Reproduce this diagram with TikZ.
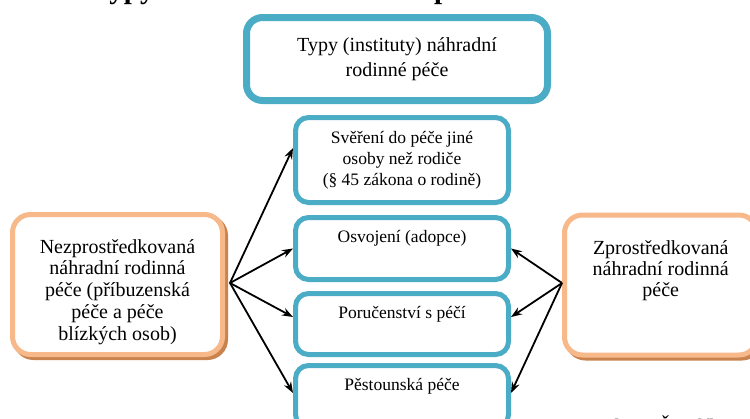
\documentclass[tikz,border=0pt]{standalone}
\usepackage{fontspec}
\setmainfont{Liberation Serif}
\usetikzlibrary{arrows.meta,backgrounds}
\definecolor{tealc}{HTML}{4BACC6}
\definecolor{orangec}{HTML}{F7B88A}
\definecolor{shadowc}{HTML}{C9834F}
\newcommand\boxtxt[4]{\begin{minipage}[t][#1][t]{#2}\centering\rule{0pt}{#3}#4\end{minipage}}
\begin{document}
\begin{tikzpicture}[x=1pt,y=-1pt,
  tealtop/.style={draw=tealc, line width=7pt, rounded corners=16pt, fill=white, inner sep=0pt,
    minimum width=301pt, minimum height=83pt, align=center, font=\fontsize{20}{25}\selectfont},
  tealbox/.style={draw=tealc, line width=5pt, rounded corners=13pt, fill=white, inner sep=0pt,
    font=\fontsize{17.5}{21}\selectfont},
  orangebox/.style={draw=orangec, line width=5pt, rounded corners=18pt, fill=white, inner sep=0pt},
  shadowline/.style={draw=shadowc, line width=5pt, rounded corners=18pt},
  link/.style={line width=1.8pt, -{Stealth[length=11pt,width=8pt]}}]
\useasboundingbox (0,0) rectangle (750,418);
\clip (0,0) rectangle (750,418);

% title fragment (cut by the top edge)
\node[anchor=base west, inner sep=0pt, font=\fontsize{29}{30}\selectfont\bfseries] (title) at (92,-2)
  {Typy\hspace{23pt}náhradní\hspace{23pt}rodinné\hspace{23pt}péče};

% top box
\node[tealtop] (T) at (397,59) {Typy (instituty) náhradní\\rodinné péče};

% middle boxes
\node[tealbox] (M1) at (402,160) {\boxtxt{85pt}{213pt}{25.5pt}{Svěření do péče jiné\\osoby než rodiče\\(§ 45 zákona o rodině)}};
\node[tealbox] (M2) at (402,248.5) {\boxtxt{62pt}{213pt}{24.5pt}{Osvojení (adopce)}};
\node[tealbox] (M3) at (402,324) {\boxtxt{61pt}{213pt}{24.5pt}{Poručenství s péčí}};
\node[tealbox] (M4) at (402,396.5) {\boxtxt{62pt}{213pt}{24.5pt}{Pěstounská péče}};

% orange boxes
\node[orangebox, font=\fontsize{20}{21.75}\selectfont] (L) at (117.5,284.5)
  {\boxtxt{140pt}{210pt}{38.5pt}{Nezprostředkovaná\\náhradní rodinná\\péče (příbuzenská\\péče a péče\\blízkých osob)}};
\node[orangebox, font=\fontsize{20}{21}\selectfont] (R) at (660.75,285)
  {\boxtxt{140pt}{192.5pt}{39pt}{Zprostředkovaná\\náhradní rodinná\\péče}};

\begin{scope}[on background layer]
  \draw[shadowline] ([shift={(5.5,5.5)}]L.north west) rectangle ([shift={(0.5,0.5)}]L.south east);
  \draw[shadowline] ([shift={(5.5,5.5)}]R.north west) rectangle ([shift={(0.5,0.5)}]R.south east);
\end{scope}

% connectors
\coordinate (ls) at ([xshift=5pt,yshift=1.5pt]L.east);
\coordinate (rs) at ([yshift=2pt]R.west);
\draw[link] (ls) -- ([yshift=12pt]M1.west);
\draw[link] (ls) -- (M2.west);
\draw[link] (ls) -- ([yshift=7pt]M3.west);
\draw[link] (ls) -- ([yshift=3.5pt]M4.west);
\draw[link] (rs) -- (M2.east);
\draw[link] (rs) -- ([yshift=7pt]M3.east);
\draw[link] (rs) -- ([yshift=3.5pt]M4.east);

% source fragment (cut by the bottom edge)
\node[anchor=base west, inner sep=0pt, font=\fontsize{22}{24}\selectfont\itshape] (src) at (595,434) {Zdroj: Šmolík};
\end{tikzpicture}
\end{document}
